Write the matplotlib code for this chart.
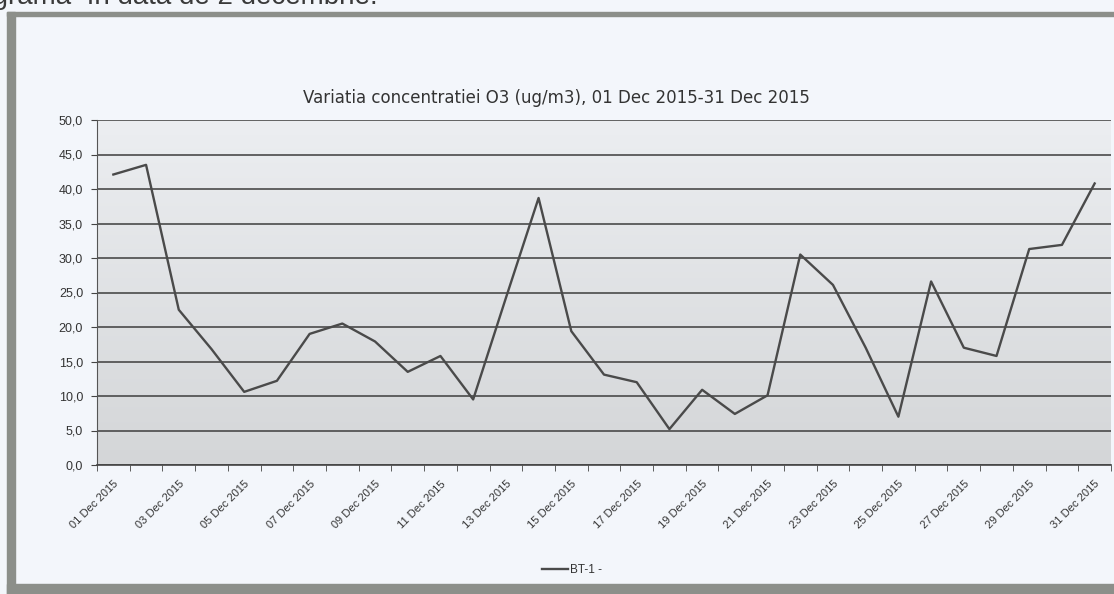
import matplotlib
matplotlib.use('Agg')
import matplotlib.pyplot as plt
import numpy as np
from matplotlib.patches import Rectangle
from matplotlib.ticker import FixedLocator, FuncFormatter

# valori, O3 ug/m3, 1-31 Dec 2015
days = list(range(1, 32))
o3 = [42.1, 43.5, 22.5, 16.8, 10.6, 12.2, 19.0, 20.5, 17.9, 13.5,
      15.8, 9.5, 24.2, 38.7, 19.4, 13.1, 12.0, 5.2, 10.9, 7.4,
      10.1, 30.5, 26.1, 17.0, 7.0, 26.6, 17.0, 15.8, 31.3, 31.9, 40.8]
labels = [f'{d:02d} Dec 2015' for d in days]
title = 'Variatia concentratiei O3 (ug/m3), 01 Dec 2015-31 Dec 2015'
series_name = 'BT-1 -'

W, H = 1114, 594
fig = plt.figure(figsize=(W / 100, H / 100), dpi=100)
fig.patch.set_facecolor('#f3f6fb')

# rama gri a chenarului (scanat)
frame = '#8c8f8a'
fig.patches.append(Rectangle((7 / W, 0), 8 / W, 1 - 12 / H, transform=fig.transFigure, color=frame))
fig.patches.append(Rectangle((7 / W, 1 - 16 / H), 1, 4 / H, transform=fig.transFigure, color=frame))
fig.patches.append(Rectangle((7 / W, 0), 1, 10 / H, transform=fig.transFigure, color=frame))

# text taiat sus (doar partea de jos se vede, ca in scan)
fig.text(378 / W, 1 - 4 / H, 'Diagrama  în data de 2 decembrie.', ha='right', va='baseline',
         fontsize=20, color='#3a3a3a', family='Liberation Sans')

ax = fig.add_axes([97 / W, 1 - 465 / H, (1111 - 97) / W, (465 - 120) / H])
n = len(days)
x = np.arange(n) + 0.5

# fundal cu gradient
grad = np.linspace(0, 1, 256).reshape(-1, 1)
ax.imshow(grad, extent=[0, n, 0, 50], aspect='auto', origin='upper',
          cmap=matplotlib.colors.LinearSegmentedColormap.from_list('g', ['#eceef1', '#d4d6d8']),
          zorder=0)

ax.set_xlim(0, n)
ax.set_ylim(0, 50)
ax.set_yticks(np.arange(0, 51, 5))
ax.yaxis.set_major_formatter(FuncFormatter(lambda v, p: f'{v:.1f}'.replace('.', ',')))
ax.grid(axis='y', color='#4a4a4a', lw=1.2, zorder=1)

ax.plot(x, o3, color='#4a4a4a', lw=1.7, zorder=3, label=series_name)

ax.xaxis.set_major_locator(FixedLocator(x[::2]))
ax.set_xticklabels(labels[::2], rotation=45, ha='right', rotation_mode='anchor',
                   fontsize=8, family='Liberation Sans', color='#333333')
ax.xaxis.set_minor_locator(FixedLocator(np.arange(0, n + 1)))
ax.tick_params(axis='x', which='major', length=0, pad=10)
ax.tick_params(axis='x', which='minor', length=4, direction='out', color='#444444')
ax.tick_params(axis='y', length=4, direction='out', labelsize=9, colors='#444444',
               labelcolor='#333333', pad=6)
for lbl in ax.get_yticklabels():
    lbl.set_family('Liberation Sans')

for s in ['top', 'right']:
    ax.spines[s].set_visible(False)
ax.spines['left'].set_color('#555555')
ax.spines['bottom'].set_color('#444444')
ax.spines['bottom'].set_linewidth(1.2)

fig.text(556 / W, 1 - 98 / H, title, ha='center', va='center', fontsize=12,
         family='DejaVu Sans', color='#333333')

fig.legend(loc='center', bbox_to_anchor=(572 / W, 1 - 570 / H), frameon=False,
           prop={'family': 'Liberation Sans', 'size': 8.5}, handlelength=2.2, handletextpad=0.1,
           labelcolor='#333333')

fig.savefig('out.png', dpi=100, facecolor=fig.get_facecolor())
